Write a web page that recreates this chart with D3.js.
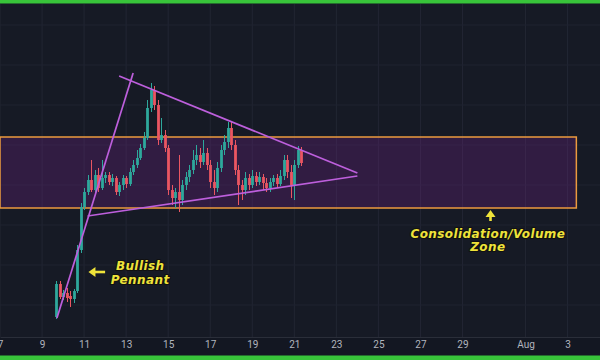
<!DOCTYPE html>
<html><head><meta charset="utf-8">
<script src="https://cdn.jsdelivr.net/npm/d3@7"></script>
<style>
html,body{margin:0;padding:0;background:#131722;}
svg{display:block;}
</style></head>
<body>
<svg id="chart" width="600" height="360"></svg>
<script>
// ---- data (4h candles, price units) ----
const firstCandle = new Date(2021, 6, 9, 16);
const candleHours = 4;
const open  = [13,46,33,37,34,31,39,80,123,138,150,140,155,142,152,155,148,152,138,145,152,146,158,165,172,182,192,222,240,225,190,195,182,140,132,138,130,145,153,160,170,175,168,177,165,148,142,162,180,188,202,185,160,145,140,152,145,154,148,153,147,142,148,152,146,154,170,158,145,165,180];
const high  = [49,49,40,42,39,41,85,127,142,155,170,160,162,170,158,158,156,154,148,155,154,162,170,180,186,198,230,247,244,230,212,200,185,145,142,175,150,158,165,180,185,182,190,182,170,160,168,185,195,208,208,190,165,150,158,156,160,158,158,156,152,152,155,156,160,175,175,165,170,184,183];
const low   = [11,31,30,28,23,27,37,77,120,135,138,137,138,140,147,145,144,135,134,140,142,144,155,162,170,180,190,218,220,185,187,178,135,125,122,118,125,140,148,156,165,162,165,160,142,135,138,158,175,182,180,155,125,130,135,140,142,144,145,140,138,138,144,142,144,150,152,132,130,162,164];
const close = [46,33,37,32,31,39,80,123,138,150,140,155,142,152,155,148,152,138,145,152,146,158,165,172,182,192,222,240,225,190,195,182,140,132,138,130,145,153,160,170,175,168,177,165,148,142,162,180,188,202,185,160,145,140,152,145,154,148,153,147,142,148,152,146,154,170,158,145,165,180,167];

const tickDates  = [[2021,6,7],[2021,6,9],[2021,6,11],[2021,6,13],[2021,6,15],[2021,6,17],[2021,6,19],[2021,6,21],[2021,6,23],[2021,6,25],[2021,6,27],[2021,6,29],[2021,7,1],[2021,7,3]];
const tickLabels = ["7","9","11","13","15","17","19","21","23","25","27","29","Aug","3"];

// trend lines: [date parts], price
const poleLine  = [[[2021,6,9,17],12],[[2021,6,13,8],257]];
const upperLine = [[[2021,6,12,16],254],[[2021,6,24,0],157]];
const lowerLine = [[[2021,6,11,4],114],[[2021,6,24,0],154]];
const zone = {start:[2021,6,7,0], end:[2021,7,3,10], top:193, bottom:122};

const labelsPennant = ["Bullish","Pennant"];
const labelsZone = ["Consolidation/Volume","Zone"];

// ---- setup ----
const W = 600, H = 360;
const svg = d3.select("#chart");
const dt = a => new Date(a[0], a[1], a[2], a[3] || 0);

const x = d3.scaleTime().domain([new Date(2021,6,7,0), new Date(2021,7,4,13)]).range([0, W]);
const y = d3.scaleLinear().domain([0, 330]).range([330, 0]);

// backgrounds
svg.append("rect").attr("width", W).attr("height", H).attr("fill", "#131722");
svg.append("rect").attr("x",0).attr("y",4).attr("width",W).attr("height",333).attr("fill","#161a25");
svg.append("rect").attr("x",0).attr("y",337).attr("width",W).attr("height",16).attr("fill","#131722");

// grid
const tickVals = tickDates.map(d => dt(d));
const grid = svg.append("g");
grid.selectAll("line.v").data(tickVals).join("line")
  .attr("x1", d => x(d)).attr("x2", d => x(d)).attr("y1", 4).attr("y2", 337)
  .attr("stroke", "#222633").attr("stroke-width", 1);
const hPrices = [25,65,105,145,185,225,265,305];
grid.selectAll("line.h").data(hPrices).join("line")
  .attr("x1", 0).attr("x2", W).attr("y1", d => y(d)).attr("y2", d => y(d))
  .attr("stroke", "#1f2330").attr("stroke-width", 1);

// zone
svg.append("rect")
  .attr("x", x(dt(zone.start))).attr("y", y(zone.top))
  .attr("width", x(dt(zone.end)) - x(dt(zone.start)))
  .attr("height", y(zone.bottom) - y(zone.top))
  .attr("fill", "#7a2590").attr("fill-opacity", 0.27)
  .attr("stroke", "#ec9a3e").attr("stroke-width", 1.5);

// candles
const candles = open.map((o, i) => ({
  t: d3.timeHour.offset(firstCandle, i * candleHours),
  o, h: high[i], l: low[i], c: close[i]
}));
const bw = 2.8;
const cg = svg.append("g");
const col = d => d.c >= d.o ? "#2ea89c" : "#ea5662";
cg.selectAll("line").data(candles).join("line")
  .attr("x1", d => Math.round(x(d.t)) + 0.5).attr("x2", d => Math.round(x(d.t)) + 0.5)
  .attr("y1", d => y(d.h)).attr("y2", d => y(d.l))
  .attr("stroke", col).attr("stroke-width", 1);
cg.selectAll("rect").data(candles).join("rect")
  .attr("x", d => Math.round(x(d.t)) + 0.5 - bw/2)
  .attr("y", d => y(Math.max(d.o, d.c)))
  .attr("width", bw)
  .attr("height", d => Math.max(1, Math.abs(y(d.o) - y(d.c))))
  .attr("fill", col);

// trend lines
const lg = svg.append("g");
[poleLine, upperLine, lowerLine].forEach(L => {
  lg.append("line")
    .attr("x1", x(dt(L[0][0]))).attr("y1", y(L[0][1]))
    .attr("x2", x(dt(L[1][0]))).attr("y2", y(L[1][1]))
    .attr("stroke", "#bd5fdc").attr("stroke-width", 1.7);
});

// axis
const axis = d3.axisBottom(x).tickValues(tickVals)
  .tickFormat((d, i) => tickLabels[i]).tickSize(0).tickPadding(4);
const ag = svg.append("g").attr("transform", "translate(0,337)").call(axis);
ag.select(".domain").attr("stroke", "#2a2e39");
ag.selectAll("text").attr("fill", "#b2b5be").attr("font-size", 10)
  .attr("font-family", "Roboto, 'Open Sans', sans-serif");

// green frame
svg.append("rect").attr("x",0).attr("y",0).attr("width",W).attr("height",3.5).attr("fill","#38c43a");
svg.append("rect").attr("x",0).attr("y",355.5).attr("width",W).attr("height",4.5).attr("fill","#38c43a");

// annotations
const yellow = "#efe33a";
const ann = svg.append("g").attr("font-family", "'DejaVu Sans', Verdana, sans-serif")
  .attr("font-weight", "bold").attr("font-style", "italic").attr("font-size", 12)
  .attr("fill", yellow).attr("stroke", "#111").attr("stroke-width", 2.2)
  .attr("paint-order", "stroke").attr("stroke-linejoin", "round")
  .attr("letter-spacing", 0.4).attr("text-anchor", "middle");

const pennantAt = [[2021,6,13,16], 64, 50];
labelsPennant.forEach((t, i) => {
  ann.append("text").attr("x", x(dt(pennantAt[0])))
    .attr("y", y(pennantAt[1 + i])).attr("dy", "0.35em").text(t);
});
const zoneAt = [[2021,6,30,5], 96, 83];
labelsZone.forEach((t, i) => {
  ann.append("text").attr("x", x(dt(zoneAt[0])))
    .attr("y", y(zoneAt[1 + i])).attr("dy", "0.35em").text(t);
});

// arrows
const arr = svg.append("g").attr("fill", yellow).attr("stroke", yellow);
// left arrow near pennant
{
  const tipX = x(new Date(2021,6,11,5)), tailX = x(new Date(2021,6,12,0)), ay = y(58);
  arr.append("line").attr("x1", tipX + 5).attr("x2", tailX).attr("y1", ay).attr("y2", ay).attr("stroke-width", 2.6);
  arr.append("path").attr("stroke", "none")
    .attr("d", `M${tipX},${ay} L${tipX+7},${ay-5} L${tipX+7},${ay+5} Z`);
}
// up arrow near zone label
{
  const ax = x(new Date(2021,6,30,8)), tipY = y(120), tailY = y(109);
  arr.append("line").attr("x1", ax).attr("x2", ax).attr("y1", tipY + 5).attr("y2", tailY).attr("stroke-width", 2.6);
  arr.append("path").attr("stroke", "none")
    .attr("d", `M${ax},${tipY} L${ax-5},${tipY+7} L${ax+5},${tipY+7} Z`);
}
</script>
</body></html>
